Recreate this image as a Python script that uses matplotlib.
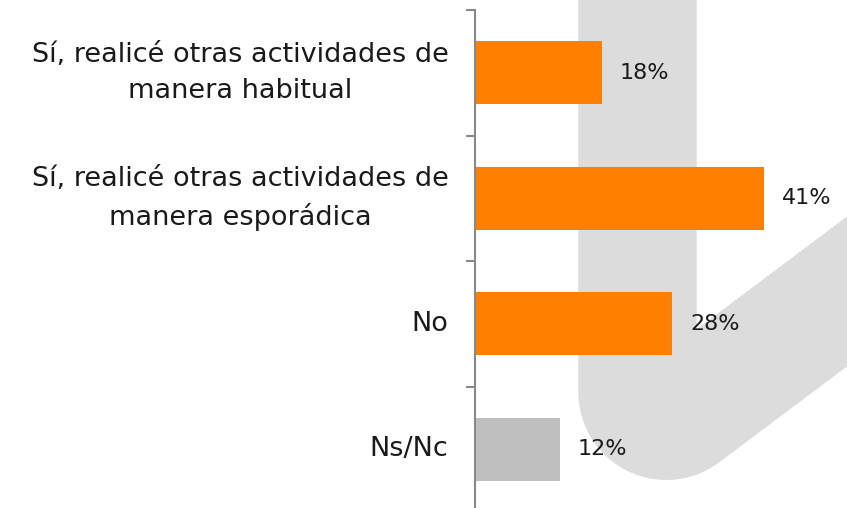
import numpy as np
import matplotlib
matplotlib.use("Agg")
import matplotlib.pyplot as plt
from matplotlib.patches import Polygon
from matplotlib.transforms import ScaledTranslation

categories = [
    "Sí, realicé otras actividades de\nmanera habitual",
    "Sí, realicé otras actividades de\nmanera esporádica",
    "No",
    "Ns/Nc",
]
values = [18, 41, 28, 12]
bar_colors = ["#ff7f00", "#ff7f00", "#ff7f00", "#bfbfbf"]

W, H = 847, 508
plt.rcParams["font.family"] = ["DejaVu Sans"]

fig = plt.figure(figsize=(W / 100, H / 100), dpi=100)
fig.patch.set_facecolor("white")

# background check-mark watermark, drawn in pixel space (y down)
bg = fig.add_axes([0, 0, 1, 1], zorder=0)
bg.set_xlim(0, W)
bg.set_ylim(H, 0)
bg.axis("off")
xl, xr = 578.3, 696.7
cx, cy, r = 666.3, 392.0, 88.0
t = np.radians(np.linspace(180, 53.13, 40))
arc = np.column_stack([cx + r * np.cos(t), cy + r * np.sin(t)])
lower = lambda x: 406.7 - 0.75 * (x - 793.3)
upper = lambda x: 306.7 - 0.75 * (x - 726.7)
pts = np.vstack([
    [[xl, -20], [xl, cy]],
    arc,
    [[900, lower(900)], [900, upper(900)], [xr, upper(xr)], [xr, -20]],
])
bg.add_patch(Polygon(pts, closed=True, facecolor="#dcdcdc", edgecolor="none"))

ax = fig.add_axes([475 / W, -4 / H, (W - 475) / W, 502 / H], zorder=1)
ax.patch.set_alpha(0)
y = np.arange(len(categories))
ax.barh(y, values, height=0.5, color=bar_colors)
ax.set_ylim(len(categories) - 0.5, -0.5)
ax.set_xlim(0, 52.8)

for yi, v in zip(y, values):
    ax.annotate(f"{v}%", (v, yi), xytext=(13, 0), textcoords="offset points",
                ha="left", va="center", fontsize=16, color="#1a1a1a")

for s in ["top", "right", "bottom"]:
    ax.spines[s].set_visible(False)
ax.spines["left"].set_color("#888888")
ax.spines["left"].set_linewidth(1.5)
ax.set_xticks([])
ax.set_yticks(np.arange(len(categories) + 1) - 0.5)
ax.set_yticklabels([])
ax.tick_params(axis="y", which="major", length=6.5, width=1.5, color="#888888")
ax.set_yticks(y, minor=True)
ax.set_yticklabels(categories, minor=True, fontsize=19.5, color="#1a1a1a",
                   ha="right", multialignment="center", linespacing=1.5)
ax.tick_params(axis="y", which="minor", length=0, pad=19)

# nudge category labels up so the text block sits centred on its bar
for lbl in ax.get_yticklabels(minor=True):
    dy = 0.08 if "\n" in lbl.get_text() else 0.03
    lbl.set_transform(lbl.get_transform() + ScaledTranslation(0, dy, fig.dpi_scale_trans))

fig.savefig("out.png", dpi=100)
